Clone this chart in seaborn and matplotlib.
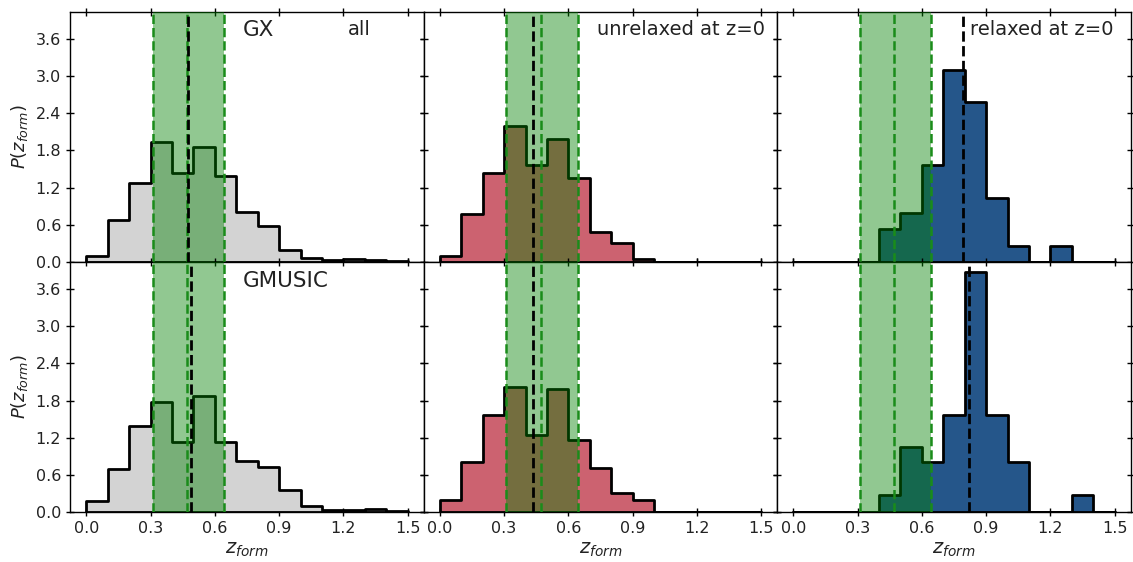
import numpy as np
import pandas as pd
import seaborn as sns
import matplotlib.pyplot as plt

sns.set_style("white")
plt.rcParams["font.family"] = ["DejaVu Sans"]
plt.rcParams["mathtext.fontset"] = "dejavusans"

# bin edges of the z_form histograms
bin_edges = [0.0, 0.1, 0.2, 0.3, 0.4, 0.5, 0.6, 0.7, 0.8, 0.9, 1.0, 1.1, 1.2, 1.3, 1.4, 1.5]

# P(z_form) per bin
gx_all = [0.09, 0.67, 1.27, 1.93, 1.44, 1.85, 1.38, 0.80, 0.58, 0.19, 0.06, 0.03, 0.05, 0.03, 0.02]
gx_unrelaxed = [0.09, 0.77, 1.43, 2.20, 1.56, 1.99, 1.36, 0.48, 0.30, 0.05, 0.0, 0.0, 0.0, 0.0, 0.0]
gx_relaxed = [0.0, 0.0, 0.0, 0.0, 0.53, 0.79, 1.56, 3.10, 2.58, 1.04, 0.26, 0.0, 0.26, 0.0, 0.0]
gm_all = [0.18, 0.70, 1.39, 1.78, 1.13, 1.88, 1.13, 0.82, 0.73, 0.36, 0.10, 0.03, 0.03, 0.05, 0.02]
gm_unrelaxed = [0.20, 0.80, 1.56, 2.02, 1.25, 1.99, 1.17, 0.71, 0.31, 0.20, 0.0, 0.0, 0.0, 0.0, 0.0]
gm_relaxed = [0.0, 0.0, 0.0, 0.0, 0.27, 1.05, 0.80, 1.56, 3.87, 1.56, 0.80, 0.0, 0.0, 0.27, 0.0]

# medians (black dashed) of each sample
medians_gx = [0.475, 0.434, 0.79]
medians_gm = [0.49, 0.434, 0.82]

# reference band (16th, 50th, 84th percentile), same in every panel
band_lo, band_mid, band_hi = 0.31, 0.47, 0.645

colors = ["#d3d3d3", "#cc6270", "#25568a"]
panel_labels = ["all", "unrelaxed at z=0", "relaxed at z=0"]

centers = [(a + b) / 2 for a, b in zip(bin_edges[:-1], bin_edges[1:])]
rows = [
    ("GX", [gx_all, gx_unrelaxed, gx_relaxed], medians_gx),
    ("GMUSIC", [gm_all, gm_unrelaxed, gm_relaxed], medians_gm),
]

fig, axes = plt.subplots(2, 3, figsize=(11.33, 5.62), dpi=100, sharex=True, sharey=True)
fig.subplots_adjust(left=0.062, right=0.998, top=0.979, bottom=0.089, wspace=0, hspace=0)

for i, (sim, hists, meds) in enumerate(rows):
    for j in range(3):
        ax = axes[i, j]
        df = pd.DataFrame({"z_form": centers, "p": hists[j]})
        sns.histplot(data=df, x="z_form", weights="p", bins=bin_edges, element="step",
                     fill=True, color=colors[j], alpha=1, edgecolor="black",
                     linewidth=2.0, ax=ax, zorder=2)
        ax.axvspan(band_lo, band_hi, color="green", alpha=0.43, lw=0, zorder=3)
        for xv in (band_lo, band_mid, band_hi):
            ax.axvline(xv, color="#1a8c1a", ls="--", lw=1.8, zorder=4)
        ax.axvline(meds[j], color="black", ls="--", lw=2.0, zorder=5)

        ax.set_xlim(-0.075, 1.575)
        ax.set_ylim(0, 4.04)
        ax.set_xticks([0.0, 0.3, 0.6, 0.9, 1.2, 1.5])
        ax.set_yticks([0.0, 0.6, 1.2, 1.8, 2.4, 3.0, 3.6])
        ax.tick_params(direction="inout", length=6, width=1, top=True, right=True,
                       bottom=True, left=True, labelsize=11.5, colors="black",
                       labelcolor="#222222")
        for sp in ax.spines.values():
            sp.set_color("black")
            sp.set_linewidth(1)
        ax.set_xlabel("")
        ax.set_ylabel("")
        if i == 1:
            ax.set_xlabel("$z_{form}$", fontsize=14, labelpad=3, color="#222222")
        if j == 0:
            ax.set_ylabel("$P(z_{form})$", fontsize=13, labelpad=4, color="#222222")

axes[0, 0].text(0.487, 0.928, "GX", transform=axes[0, 0].transAxes, fontsize=15.5,
                ha="left", va="center", color="#222222")
axes[0, 0].text(0.785, 0.928, panel_labels[0], transform=axes[0, 0].transAxes,
                fontsize=14, ha="left", va="center", color="#222222")
axes[1, 0].text(0.487, 0.924, "GMUSIC", transform=axes[1, 0].transAxes, fontsize=15.5,
                ha="left", va="center", color="#222222")
axes[0, 1].text(0.727, 0.928, panel_labels[1], transform=axes[0, 1].transAxes,
                fontsize=14, ha="center", va="center", color="#222222")
axes[0, 2].text(0.749, 0.928, panel_labels[2], transform=axes[0, 2].transAxes,
                fontsize=14, ha="center", va="center", color="#222222")

fig.savefig("out.png", dpi=100)
